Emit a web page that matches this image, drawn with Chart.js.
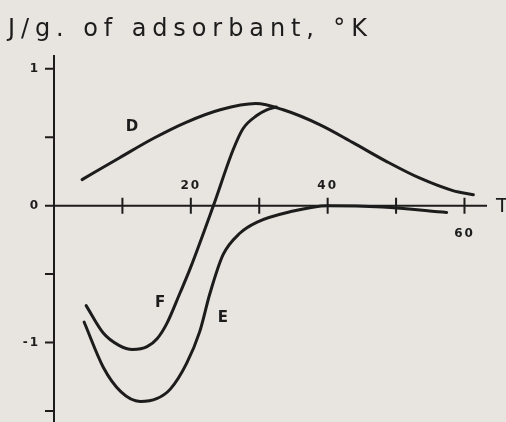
<!DOCTYPE html>
<html>
<head>
<meta charset="utf-8">
<script src="https://cdn.jsdelivr.net/npm/chart.js@4/dist/chart.umd.min.js"></script>
<style>
  html, body { margin: 0; padding: 0; background: #e8e4df; }
  #wrap { width: 506px; height: 422px; }
</style>
</head>
<body>
<div id="wrap"><canvas id="chart" width="506" height="422"></canvas></div>
<script>
// curve D
const dT = [4.1, 9.6, 14.5, 19.4, 24.3, 29.5, 33.5, 38.9, 43.7, 48.7, 53.5, 58.3, 61.3];
const dY = [0.19, 0.35, 0.49, 0.61, 0.70, 0.745, 0.70, 0.59, 0.46, 0.32, 0.20, 0.11, 0.08];
// curve E
const eT = [4.4, 7.2, 9.8, 12.6, 15, 17, 19.4, 21.3, 22.8, 24.7, 27.2, 29.7, 34.5, 40, 48, 57.4];
const eY = [-0.85, -1.18, -1.36, -1.43, -1.41, -1.34, -1.15, -0.92, -0.64, -0.36, -0.2, -0.12, -0.045, 0, -0.01, -0.05];
// curve F
const fT = [4.7, 7.2, 9.5, 11.5, 13.6, 15.1, 16.5, 18.4, 19.9, 23.3, 26.2, 27.6, 29.7, 31.1, 32.5];
const fY = [-0.73, -0.93, -1.02, -1.05, -1.03, -0.97, -0.86, -0.64, -0.46, 0, 0.41, 0.56, 0.66, 0.70, 0.72];

const curveNames = ["D", "E", "F"];
const nameT = [11.4, 24.7, 15.5];
const nameY = [0.57, -0.82, -0.71];

const xTicks = [10, 20, 30, 40, 50, 60];
const xLabelValues = [20, 40, 60];
const xLabelText = ["20", "40", "60"];
const yTicks = [1, 0.5, 0, -0.5, -1, -1.5];
const yLabelValues = [1, 0, -1];
const yLabelText = ["1", "0", "-1"];

const yTitle = "J/g. of adsorbant, °K";
const xTitle = "T";

const ink = "#1c1c1c";
const pts = (xs, ys) => xs.map((x, i) => ({ x: x, y: ys[i] }));

// axes, ticks and lettering drawn through the scales
const axesPlugin = {
  id: "axes",
  afterDraw(chart) {
    const ctx = chart.ctx;
    const x = chart.scales.x, y = chart.scales.y;
    const x0 = x.getPixelForValue(0), y0 = y.getPixelForValue(0);
    ctx.save();
    ctx.strokeStyle = ink;
    ctx.fillStyle = ink;
    ctx.lineWidth = 2;
    ctx.beginPath();
    ctx.moveTo(x0, chart.chartArea.top);
    ctx.lineTo(x0, chart.chartArea.bottom);
    ctx.moveTo(x0, y0);
    ctx.lineTo(chart.chartArea.right + 2, y0);
    yTicks.forEach(v => {
      const py = y.getPixelForValue(v);
      ctx.moveTo(x0 - 9, py);
      ctx.lineTo(x0, py);
    });
    xTicks.forEach(v => {
      const px = x.getPixelForValue(v);
      ctx.moveTo(px, y0 - 8);
      ctx.lineTo(px, y0 + 8);
    });
    ctx.stroke();

    ctx.font = "bold 12px 'DejaVu Sans'";
    ctx.letterSpacing = "2px";
    ctx.textBaseline = "middle";
    ctx.textAlign = "center";
    xLabelValues.forEach((v, i) => {
      const px = x.getPixelForValue(v);
      const py = v === 60 ? y0 + 28 : y0 - 20;
      ctx.fillText(xLabelText[i], px, py);
    });
    ctx.textAlign = "right";
    yLabelValues.forEach((v, i) => {
      ctx.fillText(yLabelText[i], x0 - 14, y.getPixelForValue(v));
    });

    ctx.font = "bold 15px 'DejaVu Sans'";
    ctx.letterSpacing = "0px";
    ctx.textAlign = "center";
    curveNames.forEach((n, i) => {
      ctx.fillText(n, x.getPixelForValue(nameT[i]), y.getPixelForValue(nameY[i]));
    });

    ctx.font = "20px 'DejaVu Sans'";
    ctx.textAlign = "left";
    ctx.fillText(xTitle, chart.chartArea.right + 11, y0 + 1);
    ctx.font = "24px 'DejaVu Sans'";
    ctx.textBaseline = "alphabetic";
    const w = ctx.measureText(yTitle).width;
    ctx.letterSpacing = ((359 - w) / (yTitle.length - 1)) + "px";
    ctx.fillText(yTitle, 8, 36);
    ctx.restore();
  }
};

new Chart(document.getElementById("chart"), {
  type: "line",
  data: {
    datasets: [
      { label: "D", data: pts(dT, dY) },
      { label: "E", data: pts(eT, eY) },
      { label: "F", data: pts(fT, fY) }
    ]
  },
  options: {
    responsive: false,
    animation: false,
    devicePixelRatio: 1,
    layout: { padding: { left: 54, right: 21, top: 55, bottom: 0 } },
    elements: {
      point: { radius: 0 },
      line: { borderColor: ink, borderWidth: 3, cubicInterpolationMode: "monotone", fill: false, borderCapStyle: "round" }
    },
    plugins: { legend: { display: false }, tooltip: { enabled: false } },
    scales: {
      x: { type: "linear", min: 0, max: 63, display: false },
      y: { min: -1.58, max: 1.1, display: false }
    }
  },
  plugins: [axesPlugin]
});
</script>
</body>
</html>
